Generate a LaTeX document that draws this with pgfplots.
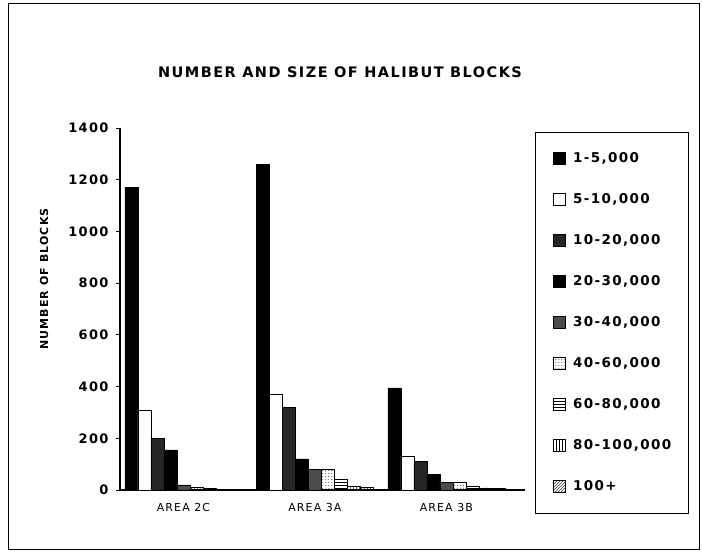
\documentclass[border=0pt]{standalone}
\usepackage{fontspec}
\setmainfont[LetterSpace=10]{DejaVu Sans}
\usepackage{pgfplots}
\pgfplotsset{compat=1.18}
\usetikzlibrary{patterns}
\pgfplotsset{sqleg/.style={legend image code/.code={\draw[##1] (0bp,-6bp) rectangle (12bp,6bp);}}}
\begin{document}
\begin{tikzpicture}[x=1bp,y=1bp]
\path[use as bounding box] (0,0) rectangle (702,554);
\draw[line width=1bp] (8,4) rectangle (699,550);
\node[font=\bfseries\fontsize{14.5bp}{14.5bp}\selectfont] at (340,482) {NUMBER AND SIZE OF HALIBUT BLOCKS};
\node[rotate=90,font=\bfseries\fontsize{11bp}{11bp}\selectfont] at (44,275) {NUMBER OF BLOCKS};
\begin{axis}[
  at={(120bp,64bp)}, anchor=south west,
  scale only axis, width=405bp, height=362bp,
  xmin=-0.483, xmax=2.598, ymin=0, ymax=1400,
  ytick={0,200,...,1400},
  xtick=data, xticklabels={AREA 2C, AREA 3A, AREA 3B},
  axis x line=bottom, axis y line=left,
  axis line style={-, line width=1.2bp},
  x tick style={draw=none},
  y tick style={line width=0.8bp, black},
  tick align=outside, major tick length=4bp,
  /pgf/number format/assume math mode=true,
  /pgf/number format/1000 sep={},
  yticklabel style={font=\bfseries\fontsize{13bp}{13bp}\selectfont, xshift=-4bp},
  xticklabel style={font=\fontsize{11bp}{11bp}\selectfont, yshift=-6bp},
  ybar=0pt, bar width=13bp,
  every axis plot/.append style={draw=black, line width=0.6bp},
  legend cell align=left,
  legend style={at={(1.0247,0.989)}, anchor=north west, draw=black, line width=1bp,
    inner xsep=17bp, inner ysep=20bp, row sep=28.4bp,
    nodes={inner sep=0pt, text height=10bp, text depth=2bp, font=\bfseries\fontsize{13.5bp}{13.5bp}\selectfont},
    /tikz/every odd column/.append style={column sep=8bp}},
]
\addplot[fill=black, sqleg] coordinates {(0,1170) (1,1260) (2,395)};
\addlegendentry{1-5,000}
\addplot[fill=white, sqleg] coordinates {(0,310) (1,370) (2,130)};
\addlegendentry{5-10,000}
\addplot[fill=black!85, sqleg] coordinates {(0,200) (1,320) (2,110)};
\addlegendentry{10-20,000}
\addplot[fill=black, sqleg] coordinates {(0,155) (1,120) (2,60)};
\addlegendentry{20-30,000}
\addplot[fill=black!70, sqleg] coordinates {(0,20) (1,80) (2,30)};
\addlegendentry{30-40,000}
\addplot[pattern=dots, sqleg] coordinates {(0,12) (1,80) (2,28)};
\addlegendentry{40-60,000}
\addplot[pattern=horizontal lines, sqleg] coordinates {(0,5) (1,40) (2,15)};
\addlegendentry{60-80,000}
\addplot[pattern=vertical lines, sqleg] coordinates {(0,3) (1,15) (2,8)};
\addlegendentry{80-100,000}
\addplot[pattern=north east lines, sqleg] coordinates {(0,2) (1,10) (2,5)};
\addlegendentry{100+}
\end{axis}
\end{tikzpicture}
\end{document}
